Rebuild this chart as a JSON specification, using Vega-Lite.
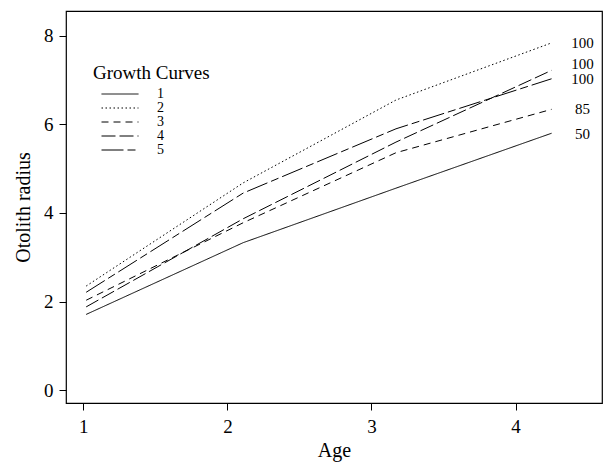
{
  "$schema": "https://vega.github.io/schema/vega-lite/v6.json",
  "width": 536,
  "height": 392,
  "padding": {"left": 66, "top": 11, "right": 1, "bottom": 65},
  "autosize": {"type": "none"},
  "background": "white",
  "config": {
    "view": {"stroke": "black", "strokeWidth": 1.2},
    "font": "Liberation Serif",
    "axis": {
      "domain": false,
      "grid": false,
      "tickColor": "black",
      "tickSize": 7,
      "labelColor": "black",
      "labelFont": "Liberation Serif",
      "labelFontSize": 19,
      "titleFont": "Liberation Serif",
      "titleFontSize": 20,
      "titleFontWeight": "normal",
      "titleColor": "black"
    },
    "legend": {
      "titleFont": "Liberation Serif",
      "titleFontSize": 19,
      "titleFontWeight": "normal",
      "titleColor": "black",
      "labelFont": "Liberation Serif",
      "labelFontSize": 14,
      "labelColor": "black"
    }
  },
  "datasets": {
    "curves": [
      {"curve": "1", "age": 1.02, "radius": 1.71},
      {"curve": "1", "age": 2.11, "radius": 3.33},
      {"curve": "1", "age": 3.17, "radius": 4.56},
      {"curve": "1", "age": 4.25, "radius": 5.80},
      {"curve": "2", "age": 1.02, "radius": 2.35},
      {"curve": "2", "age": 2.11, "radius": 4.68},
      {"curve": "2", "age": 3.17, "radius": 6.55},
      {"curve": "2", "age": 4.25, "radius": 7.84},
      {"curve": "3", "age": 1.02, "radius": 2.03},
      {"curve": "3", "age": 2.11, "radius": 3.78},
      {"curve": "3", "age": 3.17, "radius": 5.36},
      {"curve": "3", "age": 4.25, "radius": 6.34},
      {"curve": "4", "age": 1.02, "radius": 1.88},
      {"curve": "4", "age": 2.11, "radius": 3.87},
      {"curve": "4", "age": 3.17, "radius": 5.60},
      {"curve": "4", "age": 4.25, "radius": 7.22},
      {"curve": "5", "age": 1.02, "radius": 2.21},
      {"curve": "5", "age": 2.11, "radius": 4.45},
      {"curve": "5", "age": 3.17, "radius": 5.90},
      {"curve": "5", "age": 4.25, "radius": 7.03}
    ],
    "labels": [
      {"label": "100", "lx": 4.465, "ly": 7.83},
      {"label": "100", "lx": 4.465, "ly": 7.37},
      {"label": "100", "lx": 4.465, "ly": 7.03},
      {"label": "85", "lx": 4.465, "ly": 6.35},
      {"label": "50", "lx": 4.465, "ly": 5.79}
    ]
  },
  "layer": [
    {
      "data": {"name": "curves"},
      "mark": {"type": "line", "color": "black", "strokeWidth": 1},
      "encoding": {
        "x": {
          "field": "age", "type": "quantitative", "title": "Age",
          "scale": {"domain": [0.88, 4.6], "nice": false, "zero": false},
          "axis": {"values": [1, 2, 3, 4], "format": "d", "labelPadding": 7, "titlePadding": 4}
        },
        "y": {
          "field": "radius", "type": "quantitative", "title": "Otolith radius",
          "scale": {"domain": [-0.29, 8.56], "nice": false, "zero": false},
          "axis": {"values": [0, 2, 4, 6, 8], "format": "d", "labelPadding": 6, "titlePadding": 10}
        },
        "strokeDash": {
          "field": "curve", "type": "nominal",
          "scale": {
            "domain": ["1", "2", "3", "4", "5"],
            "range": [[1, 0], [1.5, 2.5], [7, 5], [14, 4], [22, 4, 8, 4]]
          },
          "legend": {
            "title": "Growth Curves",
            "orient": "none",
            "legendX": 27,
            "legendY": 53,
            "symbolType": "M-3.7,0H3.7",
            "symbolSize": 100,
            "symbolOffset": 20,
            "symbolStrokeColor": "black",
            "symbolStrokeWidth": 1,
            "rowPadding": -2,
            "labelOffset": 30,
            "titlePadding": 4,
            "padding": 0,
            "offset": 0
          }
        }
      }
    },
    {
      "data": {"name": "labels"},
      "mark": {"type": "text", "font": "Liberation Serif", "fontSize": 15, "color": "black", "align": "center", "baseline": "middle"},
      "encoding": {
        "x": {"field": "lx", "type": "quantitative"},
        "y": {"field": "ly", "type": "quantitative"},
        "text": {"field": "label"}
      }
    }
  ]
}
